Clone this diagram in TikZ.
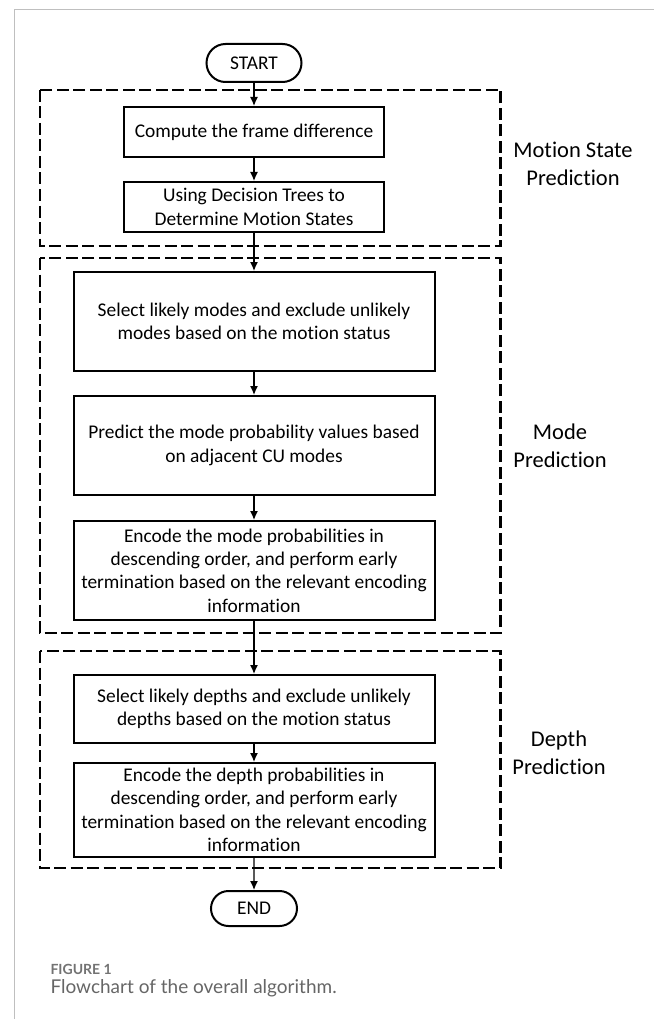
\documentclass[tikz,border=0pt]{standalone}
\usepackage{fontspec}
\setmainfont{Carlito}[Ligatures=NoCommon]
\newfontfamily\captionfont{Lato}
\usetikzlibrary{shapes.misc, arrows.meta}

\begin{document}
\begin{tikzpicture}[x=1pt, y=-1pt,
  stepbox/.style={draw, line width=2pt, rectangle, align=center, inner sep=0pt, font=\fontsize{19.4}{23.4}\selectfont},
  termbox/.style={draw, line width=2pt, rounded rectangle, inner sep=0pt, font=\fontsize{19.4}{23.4}\selectfont},
  stagebox/.style={dash pattern=on 12pt off 4.5pt, line width=2.4pt},
  stagelabel/.style={align=center, font=\fontsize{22.5}{27.5}\selectfont},
]

\useasboundingbox (0,0) rectangle (654,1019);
\draw [black!25, line width=1pt] (14,1019) -- (14,9.5) -- (654,9.5);

% dashed stage frames
\draw [stagebox] (40,90) rectangle (500.5,246);
\draw [stagebox] (40,258) rectangle (500.5,633);
\draw [stagebox] (40,651) rectangle (500.5,868);

\node (start) [termbox, minimum width=95pt, minimum height=38pt] at (254, 63) {START};

\node (compute) [stepbox, minimum width=260pt, minimum height=50pt] at (254, 132) {Compute the frame difference};
\node (trees) [stepbox, minimum width=260pt, minimum height=50pt] at (254, 207) {Using Decision Trees to\\Determine Motion States};

\node (selmode) [stepbox, minimum width=361pt, minimum height=99pt] at (254, 321.5) {Select likely modes and exclude unlikely\\modes based on the motion status};
\node (predmode) [stepbox, minimum width=361pt, minimum height=99pt] at (254, 445.5) {Predict the mode probability values based\\on adjacent CU modes};
\node (encmode) [stepbox, minimum width=361pt, minimum height=99pt] at (254, 570.5) {Encode the mode probabilities in\\descending order, and perform early\\termination based on the relevant encoding\\information};

\node (seldepth) [stepbox, minimum width=361pt, minimum height=68pt] at (254, 709) {Select likely depths and exclude unlikely\\depths based on the motion status};
\node (encdepth) [stepbox, minimum width=361pt, minimum height=94pt] at (254, 810) {Encode the depth probabilities in\\descending order, and perform early\\termination based on the relevant encoding\\information};

\node (end) [termbox, minimum width=86pt, minimum height=35pt] at (254, 908.5) {END};

\foreach \a/\b in {start/compute, compute/trees, trees/selmode, selmode/predmode, predmode/encmode, encmode/seldepth, seldepth/encdepth, encdepth/end}
{
  \draw [-{Latex[length=9pt, width=8pt]}, line width=1.3pt] (\a) -- (\b);
}

\node (motionlbl) [stagelabel] at (573, 164) {Motion State\\Prediction};
\node (modelbl) [stagelabel] at (560, 446) {Mode\\Prediction};
\node (depthlbl) [stagelabel] at (559, 753) {Depth\\Prediction};

\node (figno) [anchor=base west, text=black!55, font=\captionfont\bfseries\fontsize{14}{16}\selectfont] at (47, 974) {FIGURE 1};
\node (figcap) [anchor=base west, text=black!60, font=\captionfont\fontsize{19}{22}\selectfont] at (47, 993) {Flowchart of the overall algorithm.};

\end{tikzpicture}
\end{document}
